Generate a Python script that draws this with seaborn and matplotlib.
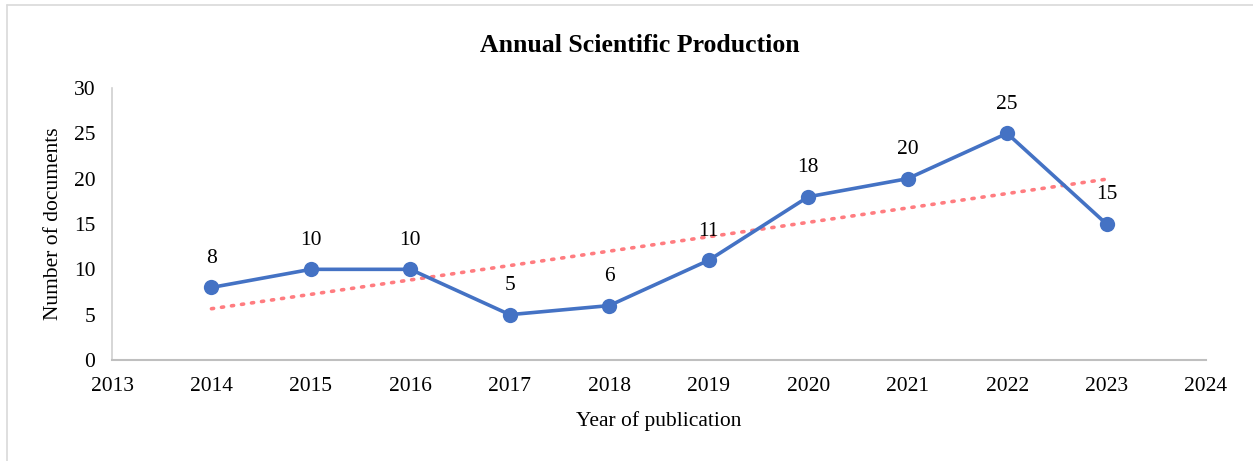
import numpy as np
import pandas as pd
import seaborn as sns
import matplotlib.pyplot as plt
from matplotlib.lines import Line2D

years = [2014, 2015, 2016, 2017, 2018, 2019, 2020, 2021, 2022, 2023]
documents = [8, 10, 10, 5, 6, 11, 18, 20, 25, 15]
x_ticks = list(range(2013, 2025))
y_ticks = [0, 5, 10, 15, 20, 25, 30]

df = pd.DataFrame({"Year": years, "Documents": documents})

sns.set_theme(style="white")
plt.rcParams['font.family'] = ['Liberation Serif', 'DejaVu Serif']

W, H = 1253, 461
fig = plt.figure(figsize=(W / 100, H / 100), dpi=100)
ax = fig.add_axes([112 / W, 1 - 360 / H, (1206 - 112) / W, (360 - 88) / H])

line_color = "#4472C4"
sns.lineplot(data=df, x="Year", y="Documents", ax=ax, color=line_color,
             linewidth=2.6, marker="o", markersize=11, markeredgewidth=0)

# linear trend line
coef = np.polyfit(np.array(years, dtype=float), np.array(documents, dtype=float), 1)
trend = np.polyval(coef, np.array(years, dtype=float))
ax.plot(years, trend, linestyle=(0, (0.6, 2.2)), color="#FF7C80", linewidth=2.6,
        dash_capstyle="round", zorder=1.5)

for xv, yv in zip(years, documents):
    ax.annotate(str(yv), (xv, yv), xytext=(0, 21), textcoords="offset points",
                ha="center", va="center", fontsize=15.5, color="black")

ax.set_xlim(2013, 2024)
ax.set_ylim(0, 30)
ax.set_xticks(x_ticks)
ax.set_yticks(y_ticks)
ax.tick_params(axis="both", labelsize=15.5, length=0, colors="black")
ax.tick_params(axis="x", pad=12)
ax.tick_params(axis="y", pad=12)

for s in ["top", "right"]:
    ax.spines[s].set_visible(False)
ax.spines["left"].set_color("#D0D0D0")
ax.spines["left"].set_linewidth(1.2)
ax.spines["bottom"].set_color("#BFBFBF")
ax.spines["bottom"].set_linewidth(1.5)

ax.set_xlabel("Year of publication", fontsize=15.5, color="black", labelpad=11)
ax.set_ylabel("Number of documents", fontsize=15.5, color="black", labelpad=8)

fig.text(640 / W, 1 - 45 / H, "Annual Scientific Production",
         ha="center", va="center", fontsize=18.5, fontweight="bold", color="black")

# outer chart-area frame (left and top edges visible)
fig.add_artist(Line2D([7 / W, 7 / W], [0, 1 - 5 / H], transform=fig.transFigure,
                      color="#D9D9D9", linewidth=1.2))
fig.add_artist(Line2D([7 / W, 1], [1 - 5 / H, 1 - 5 / H], transform=fig.transFigure,
                      color="#D9D9D9", linewidth=1.2))

fig.savefig("out.png", dpi=100)
